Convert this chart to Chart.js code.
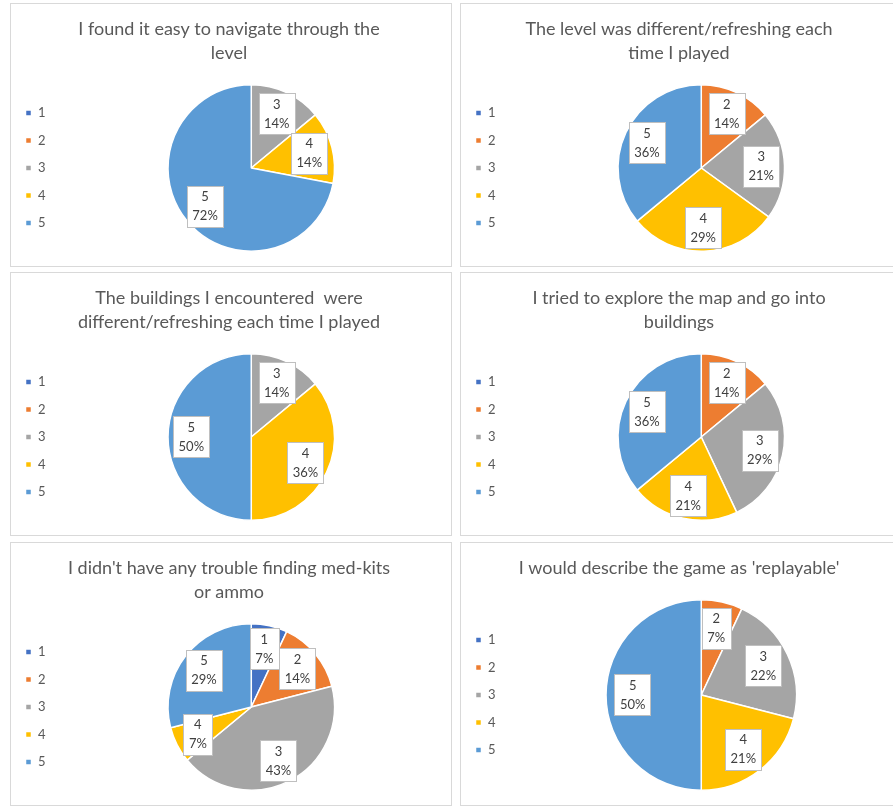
<!DOCTYPE html>
<html>
<head>
<meta charset="utf-8">
<script src="https://cdn.jsdelivr.net/npm/chart.js@4.4.1/dist/chart.umd.min.js"></script>
<style>
  body { margin: 0; background: #fff; width: 893px; height: 806px; overflow: hidden; position: relative; }
  .panel { position: absolute; width: 442px; height: 264px; box-sizing: border-box; border: 1px solid #d9d9d9; overflow: hidden; background: #fff; }
  .panel canvas { position: absolute; left: 0; top: 0; }
</style>
</head>
<body>
<div class="panel" style="left:10px;top:3px"><canvas id="c1" width="440" height="262"></canvas></div>
<div class="panel" style="left:460px;top:3px"><canvas id="c2" width="440" height="262"></canvas></div>
<div class="panel" style="left:10px;top:272px"><canvas id="c3" width="440" height="262"></canvas></div>
<div class="panel" style="left:460px;top:272px"><canvas id="c4" width="440" height="262"></canvas></div>
<div class="panel" style="left:10px;top:542px"><canvas id="c5" width="440" height="262"></canvas></div>
<div class="panel" style="left:460px;top:542px"><canvas id="c6" width="440" height="262"></canvas></div>
<script>
const categories = ['1', '2', '3', '4', '5'];
const sliceColors = ['#4472C4', '#ED7D31', '#A5A5A5', '#FFC000', '#5B9BD5'];

// percentages per answer (1..5)
const navigateValues = [0, 0, 14, 14, 72];
const levelValues = [0, 14, 21, 29, 36];
const buildingsValues = [0, 0, 14, 36, 50];
const exploreValues = [0, 14, 29, 21, 36];
const medkitValues = [7, 14, 43, 7, 29];
const replayValues = [0, 7, 22, 21, 50];

const navigateTitle = ['I found it easy to navigate through the', 'level'];
const levelTitle = ['The level was different/refreshing each', 'time I played'];
const buildingsTitle = ['The buildings I encountered  were', 'different/refreshing each time I played'];
const exploreTitle = ['I tried to explore the map and go into', 'buildings'];
const medkitTitle = ["I didn't have any trouble finding med-kits", 'or ammo'];
const replayTitle = ["I would describe the game as 'replayable'"];

const FONT = 'Lato, "Open Sans", sans-serif';

// white callout boxes with category + percent
const calloutLabels = {
  id: 'calloutLabels',
  afterDatasetsDraw(chart) {
    const ctx = chart.ctx;
    const meta = chart.getDatasetMeta(0);
    const data = chart.data.datasets[0].data;
    ctx.save();
    ctx.font = '13px ' + FONT;
    ctx.textAlign = 'center';
    ctx.textBaseline = 'middle';
    meta.data.forEach((arc, i) => {
      if (!data[i]) return;
      const p = arc.getProps(['x', 'y', 'startAngle', 'endAngle', 'outerRadius']);
      const mid = (p.startAngle + p.endAngle) / 2;
      const d = p.outerRadius * 0.72;
      const cx = p.x + Math.cos(mid) * d;
      const cy = p.y + Math.sin(mid) * d;
      const line2 = data[i] + '%';
      const w = Math.max(ctx.measureText(line2).width, 8) + 11;
      const h = 41;
      const x0 = Math.round(cx - w / 2) + 0.5, y0 = Math.round(cy - h / 2) + 0.5;
      ctx.fillStyle = '#fff';
      ctx.strokeStyle = '#bfbfbf';
      ctx.lineWidth = 1;
      ctx.fillRect(x0, y0, Math.round(w), h);
      ctx.strokeRect(x0, y0, Math.round(w), h);
      ctx.fillStyle = '#404040';
      ctx.fillText(chart.data.labels[i], cx, cy - 9);
      ctx.fillText(line2, cx, cy + 10);
    });
    ctx.restore();
  }
};

function makePie(id, title, values) {
  new Chart(document.getElementById(id), {
    type: 'pie',
    data: {
      labels: categories,
      datasets: [{
        data: values,
        backgroundColor: sliceColors,
        borderColor: '#ffffff',
        borderWidth: 1.5
      }]
    },
    options: {
      responsive: false,
      animation: false,
      events: [],
      layout: { padding: { left: 0, right: 4, bottom: 14 } },
      plugins: {
        title: {
          display: true,
          text: title,
          color: '#595959',
          font: { family: FONT, size: 18, weight: 'normal', lineHeight: 1.333 },
          padding: { top: 13, bottom: 19 }
        },
        legend: {
          position: 'left',
          fullSize: false,
          labels: {
            boxWidth: 6,
            boxHeight: 6,
            padding: 14.5,
            color: '#595959',
            font: { family: FONT, size: 13 }
          }
        },
        tooltip: { enabled: false }
      }
    },
    plugins: [calloutLabels]
  });
}

makePie('c1', navigateTitle, navigateValues);
makePie('c2', levelTitle, levelValues);
makePie('c3', buildingsTitle, buildingsValues);
makePie('c4', exploreTitle, exploreValues);
makePie('c5', medkitTitle, medkitValues);
makePie('c6', replayTitle, replayValues);
</script>
</body>
</html>
